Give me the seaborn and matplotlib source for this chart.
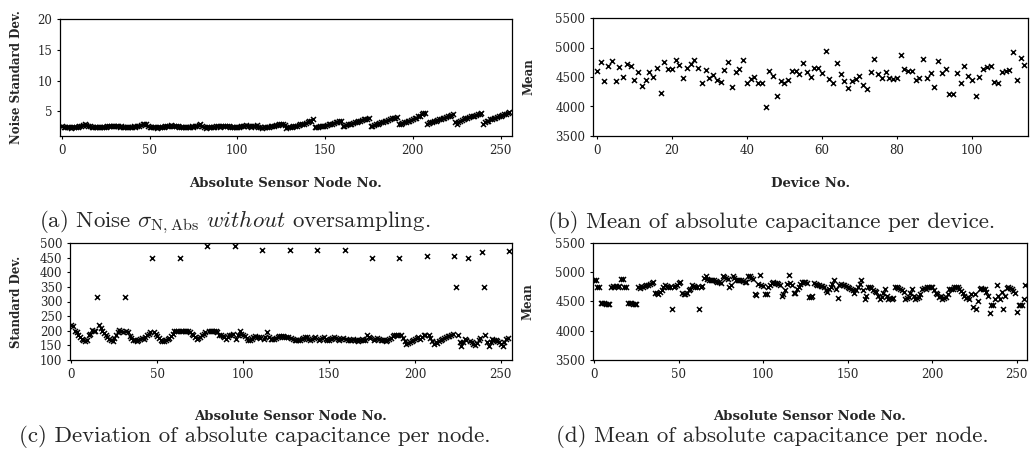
import numpy as np
import pandas as pd
import matplotlib
matplotlib.use("Agg")
import matplotlib.pyplot as plt
import seaborn as sns

# ---------------- data ----------------
# (a) noise std per absolute sensor node (0..255)
noise_std = [
    2.6, 2.5, 2.4, 2.5, 2.4, 2.3, 2.4, 2.5, 2.4, 2.5, 2.6, 2.7, 2.8, 2.9, 2.8, 2.7,
    2.6, 2.5, 2.4, 2.5, 2.4, 2.4, 2.5, 2.4, 2.5, 2.5, 2.6, 2.6, 2.7, 2.6, 2.7, 2.6,
    2.6, 2.5, 2.6, 2.5, 2.4, 2.5, 2.4, 2.5, 2.5, 2.6, 2.5, 2.6, 2.7, 2.8, 2.9, 3.0,
    2.9, 2.6, 2.5, 2.4, 2.5, 2.4, 2.3, 2.4, 2.5, 2.4, 2.5, 2.6, 2.6, 2.7, 2.8, 2.7,
    2.6, 2.7, 2.6, 2.5, 2.5, 2.4, 2.5, 2.4, 2.5, 2.5, 2.6, 2.5, 2.6, 2.7, 2.8, 2.9,
    2.6, 2.4, 2.3, 2.4, 2.4, 2.5, 2.5, 2.5, 2.6, 2.6, 2.5, 2.6, 2.6, 2.7, 2.6, 2.7,
    2.5, 2.4, 2.5, 2.4, 2.5, 2.5, 2.6, 2.6, 2.7, 2.8, 2.7, 2.6, 2.5, 2.6, 2.7, 2.8,
    2.4, 2.4, 2.3, 2.4, 2.4, 2.5, 2.5, 2.6, 2.6, 2.7, 2.8, 2.8, 2.9, 3.0, 2.9, 2.8,
    2.3, 2.4, 2.4, 2.5, 2.6, 2.6, 2.7, 2.8, 2.9, 2.9, 3.0, 3.1, 3.2, 3.4, 3.5, 3.7,
    2.4, 2.5, 2.5, 2.6, 2.6, 2.7, 2.7, 2.8, 2.9, 2.9, 3.0, 3.1, 3.2, 3.3, 3.4, 3.5,
    2.6, 2.7, 2.8, 2.9, 2.9, 3.0, 3.1, 3.2, 3.3, 3.4, 3.5, 3.6, 3.7, 3.7, 3.8, 3.9,
    2.6, 2.7, 2.8, 2.9, 3.0, 3.1, 3.2, 3.3, 3.4, 3.5, 3.6, 3.8, 3.9, 4.0, 4.0, 4.1,
    2.9, 3.0, 3.1, 3.2, 3.3, 3.4, 3.5, 3.6, 3.8, 3.9, 4.0, 4.2, 4.3, 4.5, 4.7, 4.8,
    3.0, 3.1, 3.2, 3.3, 3.4, 3.5, 3.6, 3.7, 3.8, 3.9, 4.0, 4.1, 4.2, 4.3, 4.4, 4.5,
    3.2, 3.0, 3.3, 3.5, 3.6, 3.8, 3.9, 4.0, 4.1, 4.2, 4.2, 4.3, 4.4, 4.5, 4.6, 4.7,
    3.0, 3.2, 3.4, 3.5, 3.7, 3.8, 3.9, 4.0, 4.1, 4.2, 4.3, 4.4, 4.5, 4.6, 4.8, 4.9,
]

# (b) mean of absolute capacitance per device (0..114)
device_mean = [
    4610, 4750, 4430, 4680, 4770, 4430, 4670, 4505, 4725, 4690,
    4455, 4590, 4355, 4455, 4590, 4500, 4647, 4230, 4760, 4630,
    4630, 4795, 4700, 4485, 4650, 4715, 4785, 4660, 4395, 4625,
    4485, 4535, 4445, 4415, 4625, 4760, 4325, 4590, 4635, 4795,
    4400, 4465, 4500, 4400, 4390, 3990, 4610, 4520, 4170, 4430,
    4395, 4455, 4600, 4600, 4550, 4735, 4580, 4495, 4660, 4660,
    4575, 4945, 4465, 4400, 4745, 4545, 4430, 4320, 4440, 4460,
    4520, 4360, 4290, 4580, 4805, 4550, 4477, 4580, 4485, 4470,
    4477, 4875, 4640, 4600, 4600, 4455, 4490, 4805, 4490, 4570,
    4325, 4775, 4570, 4630, 4215, 4210, 4560, 4400, 4685, 4520,
    4455, 4180, 4495, 4640, 4670, 4680, 4410, 4395, 4585, 4610,
    4615, 4930, 4445, 4830, 4700,
]

# (c) standard deviation of absolute capacitance per node (0..255)
node_std = [
    220, 215, 200, 195, 187, 180, 173, 168, 165, 170, 187, 190, 202, 200, 198, 315,
    220, 210, 200, 192, 185, 180, 173, 168, 165, 175, 187, 195, 202, 200, 196, 315,
    200, 195, 181, 175, 170, 168, 165, 170, 173, 175, 173, 180, 187, 190, 195, 450,
    196, 190, 181, 175, 167, 165, 165, 170, 173, 175, 181, 190, 200, 198, 200, 450,
    200, 200, 200, 199, 198, 195, 190, 187, 180, 173, 175, 178, 187, 190, 195, 490,
    200, 200, 200, 199, 198, 195, 187, 184, 181, 177, 173, 180, 187, 185, 190, 490,
    173, 185, 200, 190, 185, 181, 175, 167, 170, 173, 177, 181, 178, 177, 175, 477,
    173, 180, 196, 180, 173, 172, 173, 175, 178, 181, 182, 181, 180, 178, 177, 477,
    175, 172, 170, 168, 167, 170, 172, 175, 177, 177, 173, 170, 172, 175, 177, 477,
    170, 172, 175, 177, 173, 170, 168, 172, 175, 178, 175, 172, 170, 172, 175, 477,
    172, 170, 168, 170, 172, 170, 168, 166, 170, 173, 170, 168, 187, 180, 175, 450,
    170, 173, 175, 172, 170, 168, 168, 166, 170, 172, 175, 182, 187, 185, 187, 450,
    187, 175, 165, 156, 158, 160, 165, 170, 173, 175, 178, 173, 178, 185, 187, 455,
    187, 175, 165, 156, 160, 158, 165, 170, 173, 175, 178, 181, 181, 185, 190, 455,
    350, 187, 160, 147, 160, 173, 170, 450, 166, 160, 155, 150, 158, 170, 175, 470,
    350, 187, 160, 147, 160, 173, 170, 167, 165, 160, 155, 147, 160, 173, 175, 471,
]

# (d) mean of absolute capacitance per node (0..255)
node_mean = [
    4870, 4860, 4750, 4740, 4480, 4470, 4470, 4460, 4460, 4450, 4740, 4760, 4740, 4770, 4750, 4760,
    4880, 4885, 4750, 4740, 4480, 4470, 4470, 4460, 4460, 4450, 4740, 4730, 4770, 4750, 4760, 4780,
    4790, 4800, 4820, 4830, 4650, 4640, 4620, 4660, 4700, 4740, 4790, 4770, 4750, 4740, 4380, 4750,
    4770, 4790, 4810, 4830, 4640, 4630, 4620, 4650, 4700, 4720, 4790, 4760, 4750, 4740, 4380, 4740,
    4760, 4900, 4940, 4880, 4870, 4870, 4860, 4860, 4850, 4840, 4830, 4810, 4940, 4920, 4900, 4890,
    4740, 4790, 4940, 4900, 4870, 4870, 4860, 4860, 4850, 4840, 4840, 4940, 4930, 4900, 4890, 4620,
    4610, 4800, 4950, 4780, 4770, 4620, 4630, 4740, 4780, 4820, 4830, 4820, 4810, 4800, 4780, 4590,
    4620, 4700, 4800, 4950, 4820, 4780, 4640, 4650, 4720, 4750, 4800, 4830, 4840, 4830, 4820, 4570,
    4570, 4600, 4810, 4800, 4790, 4780, 4770, 4760, 4750, 4700, 4660, 4720, 4750, 4800, 4870, 4720,
    4560, 4780, 4800, 4790, 4780, 4760, 4740, 4730, 4720, 4700, 4640, 4700, 4750, 4800, 4870, 4700,
    4540, 4600, 4750, 4740, 4730, 4700, 4680, 4660, 4600, 4550, 4580, 4640, 4710, 4600, 4550, 4560,
    4550, 4560, 4750, 4740, 4730, 4720, 4700, 4660, 4550, 4560, 4580, 4650, 4710, 4600, 4550, 4560,
    4570, 4620, 4720, 4730, 4720, 4740, 4750, 4750, 4740, 4700, 4640, 4620, 4580, 4600, 4550, 4560,
    4570, 4620, 4710, 4720, 4720, 4740, 4750, 4740, 4720, 4680, 4640, 4600, 4560, 4570, 4550, 4620,
    4400, 4620, 4380, 4500, 4720, 4730, 4720, 4720, 4660, 4600, 4310, 4440, 4440, 4550, 4780, 4600,
    4550, 4660, 4380, 4600, 4730, 4740, 4730, 4720, 4680, 4650, 4320, 4440, 4440, 4440, 4550, 4780,
]

node_ticks = [0, 50, 100, 150, 200, 250]
device_ticks = [0, 20, 40, 60, 80, 100]
noise_yticks = [5, 10, 15, 20]
mean_yticks = [3500, 4000, 4500, 5000, 5500]
std_yticks = [100, 150, 200, 250, 300, 350, 400, 450, 500]

captions = [
    r"(a) Noise $\sigma_{\mathrm{N,Abs}}$ $\mathit{without}$ oversampling.",
    "(b) Mean of absolute capacitance per device.",
    "(c) Deviation of absolute capacitance per node.",
    "(d) Mean of absolute capacitance per node.",
]

# ---------------- style ----------------
sns.set_theme(style="ticks")
plt.rcParams["font.family"] = ["DejaVu Serif"]
plt.rcParams["mathtext.fontset"] = "cm"

W, H = 1030, 457
fig = plt.figure(figsize=(W / 100, H / 100), dpi=100)


def add_ax(l, r, t, b):
    return fig.add_axes([l / W, (H - b) / H, (r - l) / W, (b - t) / H])


ax_a = add_ax(60, 512, 19, 136)
ax_b = add_ax(593, 1028, 18, 136)
ax_c = add_ax(70, 512, 243, 360)
ax_d = add_ax(593, 1027, 243, 360)

mk = dict(marker="x", color="black", s=13, linewidth=1.1, legend=False)

nodes = np.arange(len(noise_std))
sns.scatterplot(x=nodes, y=noise_std, ax=ax_a, **mk)
sns.scatterplot(x=np.arange(len(device_mean)), y=device_mean, ax=ax_b, **mk)
sns.scatterplot(x=np.arange(len(node_std)), y=node_std, ax=ax_c, **mk)
sns.scatterplot(x=np.arange(len(node_mean)), y=node_mean, ax=ax_d, **mk)

ax_a.set(xlim=(-1, 256.5), ylim=(1, 20), xticks=node_ticks, yticks=noise_yticks)
ax_b.set(xlim=(-1, 115), ylim=(3500, 5500), xticks=device_ticks, yticks=mean_yticks)
ax_c.set(xlim=(-0.8, 256.5), ylim=(100, 500), xticks=node_ticks, yticks=std_yticks)
ax_d.set(xlim=(-0.6, 256), ylim=(3500, 5500), xticks=node_ticks, yticks=mean_yticks)

labels = [
    (ax_a, "Absolute Sensor Node No.", "Noise Standard Dev.", -0.082, -0.35),
    (ax_b, "Device No.", "Mean", -0.133, -0.35),
    (ax_c, "Absolute Sensor Node No.", "Standard Dev.", -0.106, -0.43),
    (ax_d, "Absolute Sensor Node No.", "Mean", -0.134, -0.43),
]
for ax, xl, yl, ylx, xly in labels:
    ax.set_xlabel(xl, fontsize=9.5, fontweight="bold")
    ax.set_ylabel(yl, fontsize=8.5, fontweight="bold")
    ax.yaxis.set_label_coords(ylx, 0.5)
    ax.xaxis.set_label_coords(0.5, xly)
    ax.tick_params(axis="both", which="major", labelsize=8.5, length=2.5, width=0.8,
                   direction="out", pad=3, color="black")
    for s in ax.spines.values():
        s.set_visible(True)
        s.set_linewidth(0.9)
        s.set_color("black")

cap_kw = dict(fontsize=16.5, family="cmr10", va="center", ha="center")
fig.text(235 / W, 1 - 222 / H, captions[0], **cap_kw)
fig.text(772 / W, 1 - 222 / H, captions[1], **cap_kw)
fig.text(255 / W, 1 - 437 / H, captions[2], **cap_kw)
fig.text(772 / W, 1 - 437 / H, captions[3], **cap_kw)

fig.savefig("out.png", dpi=100)
